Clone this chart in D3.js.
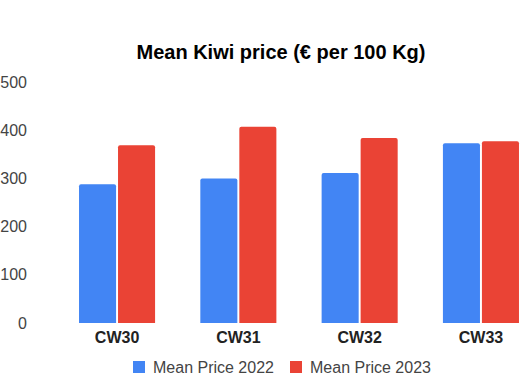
<!DOCTYPE html>
<html>
<head>
<meta charset="utf-8">
<script src="https://cdn.jsdelivr.net/npm/d3@7"></script>
<style>
  body { margin: 0; background: #fff; }
  text { font-family: "Liberation Sans", Arial, sans-serif; }
</style>
</head>
<body>
<div id="chart"></div>
<script>
const weeks = ["CW30", "CW31", "CW32", "CW33"];
const seriesNames = ["Mean Price 2022", "Mean Price 2023"];
const price2022 = [288, 300, 311, 373];
const price2023 = [369, 407, 384, 377];
const yTicks = [0, 100, 200, 300, 400, 500];
const colors = ["#4285F4", "#EA4335"];

const width = 522, height = 379;
const svg = d3.select("#chart").append("svg")
    .attr("width", width).attr("height", height);

const x0 = d3.scaleBand().domain(weeks).range([56.4, 541.6]);
const groupW = x0.bandwidth() * 0.627;
const x1 = d3.scaleBand().domain(seriesNames).range([0, groupW]).paddingInner(0.05);
const y = d3.scaleLinear().domain([0, 500]).range([323, 82]);

// title
svg.append("text")
    .attr("x", 281).attr("y", 59)
    .attr("text-anchor", "middle")
    .style("font-size", "20px").style("font-weight", "bold").style("fill", "#000")
    .text("Mean Kiwi price (€ per 100 Kg)");

// y axis labels (no line, no ticks)
const yAxis = svg.append("g")
    .attr("transform", "translate(27,0)")
    .call(d3.axisLeft(y).tickValues(yTicks).tickSize(0).tickPadding(0));
yAxis.select(".domain").remove();
yAxis.selectAll("text")
    .style("font-size", "16px").style("fill", "#444")
    .style("font-family", "'Liberation Sans', Arial, sans-serif");

// x axis labels
const xAxis = svg.append("g")
    .attr("transform", "translate(0,332)")
    .call(d3.axisBottom(x0).tickSize(0).tickPadding(0));
xAxis.select(".domain").remove();
xAxis.selectAll("text")
    .attr("dy", "0.71em")
    .style("font-size", "16px").style("font-weight", "bold").style("fill", "#222")
    .style("font-family", "'Liberation Sans', Arial, sans-serif");

// bars
const rows = weeks.map((w, i) => ({ week: w, values: [price2022[i], price2023[i]] }));
const groups = svg.append("g").selectAll("g").data(rows).join("g")
    .attr("transform", d => `translate(${x0(d.week) + (x0.bandwidth() - groupW) / 2},0)`);

function topRounded(x, yTop, w, h, r) {
  return `M${x},${yTop + h} L${x},${yTop + r} Q${x},${yTop} ${x + r},${yTop}` +
         ` L${x + w - r},${yTop} Q${x + w},${yTop} ${x + w},${yTop + r} L${x + w},${yTop + h} Z`;
}

groups.selectAll("path").data(d => d.values.map((v, j) => ({ name: seriesNames[j], v, j })))
  .join("path")
    .attr("fill", d => colors[d.j])
    .attr("d", d => topRounded(x1(d.name), y(d.v), x1.bandwidth(), y(0) - y(d.v), 2));

// legend
const legendItems = [{ x: 133, name: seriesNames[0], c: colors[0] }, { x: 290, name: seriesNames[1], c: colors[1] }];
const lg = svg.append("g").selectAll("g").data(legendItems).join("g")
    .attr("transform", d => `translate(${d.x},361)`);
lg.append("rect").attr("width", 12).attr("height", 12).attr("fill", d => d.c);
lg.append("text").attr("x", 20).attr("y", 12)
    .style("font-size", "16px").style("fill", "#444")
    .text(d => d.name);
</script>
</body>
</html>
